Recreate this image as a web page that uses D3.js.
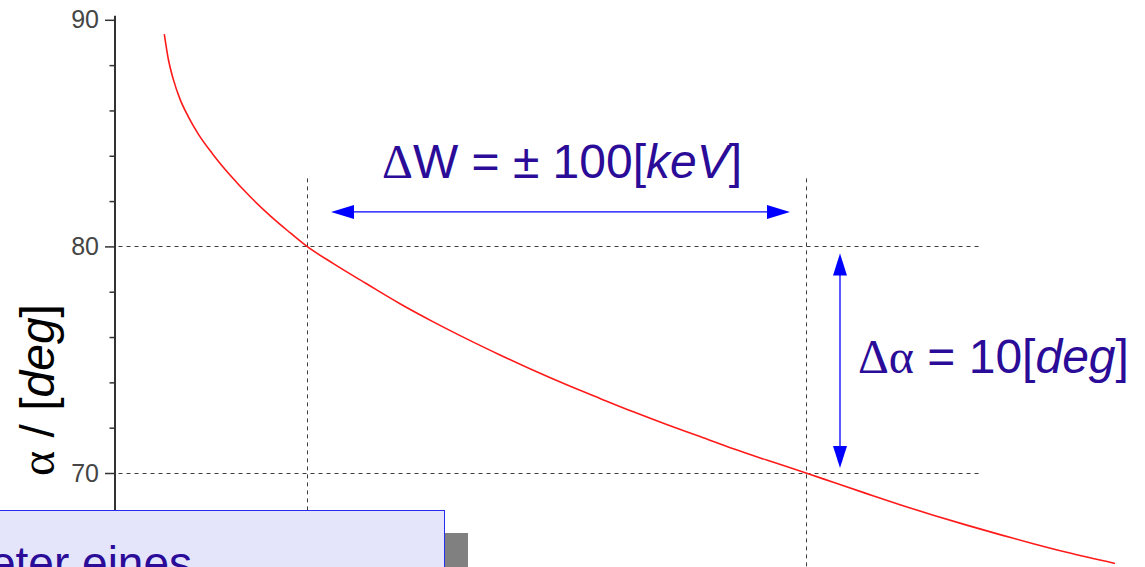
<!DOCTYPE html>
<html><head><meta charset="utf-8">
<script src="https://cdn.jsdelivr.net/npm/d3@7"></script>
<style>
html,body{margin:0;padding:0;background:#fff;overflow:hidden;}
svg{display:block;}
</style></head><body>
<svg id="chart" width="1145" height="567"></svg>
<script>
// Scattered energy W [keV] and scattering angle alpha [deg]
const energyW    = [21.40, 22.20, 23.21, 24.55, 26.15, 28.16, 31.16, 34.57, 38.58, 42.59, 46.19, 50.00,
                    55.21, 62.02, 68.64, 75.31, 82.00, 88.68, 95.35, 102.04, 108.72, 115.39, 122.08, 128.76,
                    135.43, 142.12, 150.00, 155.47, 162.16, 168.84, 175.51, 182.20, 188.88, 195.55, 202.24, 211.92];
const angleAlpha = [89.37, 88.27, 87.37, 86.50, 85.75, 84.98, 84.06, 83.15, 82.20, 81.36, 80.68, 80.00,
                    79.25, 78.34, 77.47, 76.67, 75.92, 75.21, 74.53, 73.89, 73.29, 72.70, 72.14, 71.61,
                    71.07, 70.57, 70.00, 69.59, 69.09, 68.60, 68.14, 67.70, 67.28, 66.88, 66.50, 66.01];

// Axis ticks
const majorTicks = [70, 80, 90];
const minorTicks = [62, 64, 66, 68, 72, 74, 76, 78, 82, 84, 86, 88];

// Reference markers: energy window and resulting angle window
const markerW     = [50, 150];
const markerAlpha = [80, 70];
const deltaWLabel = "100";
const deltaALabel = "10";

const svg = d3.select("#chart");
const textColor = "#2a0c98";
const arrowColor = "#0000ff";
const fontSans = "'Liberation Sans', Arial, sans-serif";
const fontSerif = "'Liberation Serif', 'Times New Roman', serif";

const x = d3.scaleLinear().domain([50, 150]).range([307, 806]);
const y = d3.scaleLinear().domain([70, 90]).range([473, 19.8]);
const axisX = 114.5;

// dashed guide lines
const guides = svg.append("g")
  .attr("stroke", "#3c3c3c").attr("stroke-width", 1).attr("stroke-dasharray", "4,4").attr("fill", "none");
markerAlpha.forEach(a => {
  guides.append("line")
    .attr("x1", axisX + 4).attr("x2", x(185))
    .attr("y1", Math.round(y(a)) + 0.5).attr("y2", Math.round(y(a)) + 0.5);
});
markerW.forEach(w => {
  guides.append("line")
    .attr("x1", Math.round(x(w)) + 0.5).attr("x2", Math.round(x(w)) + 0.5)
    .attr("y1", y(83)).attr("y2", 567);
});

// curve alpha(W)
const pts = energyW.map((w, i) => [w, angleAlpha[i]]);
svg.append("path")
  .datum(pts)
  .attr("fill", "none")
  .attr("stroke", "#ff1a1a")
  .attr("stroke-width", 1.6)
  .attr("d", d3.line().x(d => x(d[0])).y(d => y(d[1])).curve(d3.curveMonotoneX));

// y axis
const axisScale = d3.scaleLinear().domain([60, 90.2]).range([y(60), y(90.2)]);
svg.append("g").attr("transform", `translate(${axisX},0)`)
  .call(d3.axisLeft(axisScale).tickValues(majorTicks).tickSize(9.5).tickSizeOuter(0).tickPadding(6))
  .call(g => g.select(".domain").attr("stroke", "#333").attr("stroke-width", 2))
  .call(g => g.selectAll(".tick line").attr("stroke", "#333").attr("stroke-width", 1.5))
  .call(g => g.selectAll(".tick text")
      .attr("fill", "#454545")
      .attr("font-family", fontSans)
      .attr("font-size", 25));
svg.append("g").attr("transform", `translate(${axisX},0)`)
  .call(d3.axisLeft(axisScale).tickValues(minorTicks).tickSize(5).tickSizeOuter(0).tickFormat(""))
  .call(g => g.select(".domain").remove())
  .call(g => g.selectAll(".tick line").attr("stroke", "#333").attr("stroke-width", 1.5));

// y axis title
const yTitle = svg.append("text")
  .attr("transform", "translate(54,390) rotate(-90)")
  .attr("text-anchor", "middle")
  .attr("font-family", fontSans)
  .attr("font-size", 48)
  .attr("fill", "#000");
yTitle.append("tspan").attr("font-family", fontSerif).text("α");
yTitle.append("tspan").text(" / [");
yTitle.append("tspan").attr("font-style", "italic").text("deg");
yTitle.append("tspan").text("]");

// double-headed arrows
function arrowHead(g, tipX, tipY, dx, dy, len, half) {
  // dx,dy: unit direction pointing towards the tip
  const bx = tipX - dx * len, by = tipY - dy * len;
  const px = -dy * half, py = dx * half;
  g.append("path")
    .attr("d", `M${tipX},${tipY}L${bx + px},${by + py}L${bx - px},${by - py}Z`)
    .attr("fill", arrowColor);
}
const arrows = svg.append("g");
const hy = y(80) - 34.5;
const hx1 = x(markerW[0]) + 24, hx2 = x(markerW[1]) - 16;
arrows.append("line").attr("x1", hx1 + 10).attr("x2", hx2 - 10).attr("y1", hy).attr("y2", hy)
  .attr("stroke", arrowColor).attr("stroke-width", 1.3);
arrowHead(arrows, hx1, hy, -1, 0, 23, 7);
arrowHead(arrows, hx2, hy, 1, 0, 23, 7);

const vx = x(markerW[1]) + 34;
const vy1 = y(markerAlpha[0]) + 7, vy2 = y(markerAlpha[1]) - 5;
arrows.append("line").attr("x1", vx).attr("x2", vx).attr("y1", vy1 + 10).attr("y2", vy2 - 10)
  .attr("stroke", arrowColor).attr("stroke-width", 1.3);
arrowHead(arrows, vx, vy1, 0, -1, 22, 7);
arrowHead(arrows, vx, vy2, 0, 1, 22, 7);

// annotation texts
const tW = svg.append("text").attr("x", 382).attr("y", 178)
  .attr("font-family", fontSans).attr("font-size", 48).attr("fill", textColor);
tW.append("tspan").attr("font-family", fontSerif).text("Δ");
tW.append("tspan").text(`W = ± ${deltaWLabel}[`);
tW.append("tspan").attr("font-style", "italic").text("keV");
tW.append("tspan").text("]");

const tA = svg.append("text").attr("x", 858).attr("y", 373)
  .attr("font-family", fontSans).attr("font-size", 48).attr("fill", textColor);
tA.append("tspan").attr("font-family", fontSerif).text("Δα");
tA.append("tspan").text(` = ${deltaALabel}[`);
tA.append("tspan").attr("font-style", "italic").text("deg");
tA.append("tspan").text("]");

// caption box with drop shadow
svg.append("rect").attr("x", 22).attr("y", 533).attr("width", 446).attr("height", 80).attr("fill", "#808080");
svg.append("rect").attr("x", -1.5).attr("y", 510.5).attr("width", 446).attr("height", 80)
  .attr("fill", "#e4e4fb").attr("stroke", "#2a2af0").attr("stroke-width", 1);
svg.append("text").attr("x", -10).attr("y", 579)
  .attr("font-family", fontSans).attr("font-size", 46).attr("fill", textColor)
  .text("eter eines");
</script>
</body></html>
